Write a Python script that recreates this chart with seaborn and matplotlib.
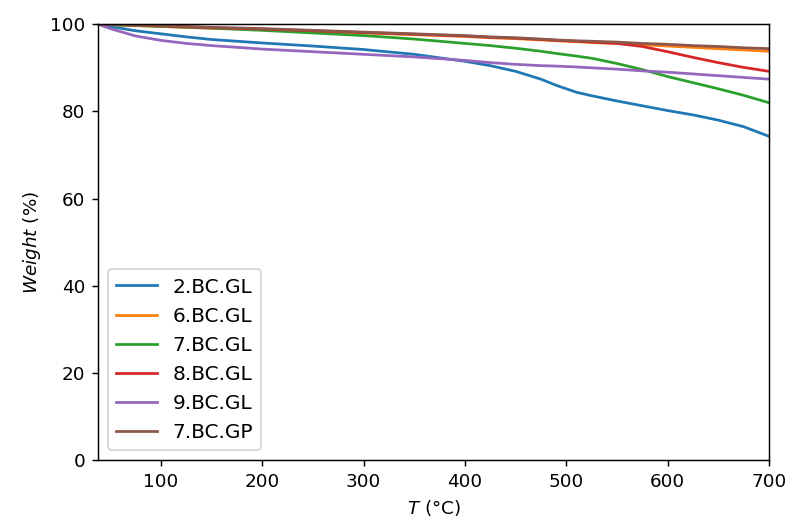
import numpy as np
import pandas as pd
import matplotlib
matplotlib.use('Agg')
import matplotlib.pyplot as plt
import seaborn as sns

# ==========================================
# TGA data
# ==========================================
temperature = [38, 50, 75, 100, 125, 150, 200, 250, 300, 350, 400, 425,
               450, 475, 490, 510, 525, 550, 575, 600, 625, 650, 675, 700]

w_2_bc_gl = [100, 99.5, 98.5, 97.8, 97.1, 96.5, 95.7, 95.0, 94.2, 93.1, 91.5, 90.5,
             89.2, 87.4, 86.0, 84.4, 83.6, 82.4, 81.3, 80.2, 79.2, 78.0, 76.5, 74.3]
w_6_bc_gl = [100, 99.9, 99.7, 99.5, 99.3, 99.1, 98.8, 98.4, 98.0, 97.6, 97.2, 96.9,
             96.7, 96.4, 96.2, 96.0, 95.8, 95.6, 95.3, 95.0, 94.7, 94.4, 94.1, 93.8]
w_7_bc_gl = [100, 99.9, 99.7, 99.5, 99.3, 99.1, 98.6, 98.0, 97.4, 96.6, 95.6, 95.1,
             94.5, 93.8, 93.3, 92.7, 92.2, 91.0, 89.6, 88.0, 86.6, 85.2, 83.7, 82.0]
w_8_bc_gl = [100, 99.95, 99.8, 99.6, 99.4, 99.2, 98.9, 98.5, 98.1, 97.7, 97.3, 97.0,
             96.8, 96.5, 96.3, 96.1, 95.9, 95.6, 94.9, 93.7, 92.4, 91.2, 90.1, 89.2]
w_9_bc_gl = [100, 99.0, 97.3, 96.3, 95.6, 95.1, 94.3, 93.7, 93.1, 92.5, 91.7, 91.2,
             90.8, 90.5, 90.4, 90.2, 90.0, 89.7, 89.3, 89.0, 88.6, 88.2, 87.8, 87.4]
w_7_bc_gp = [100, 99.95, 99.8, 99.7, 99.5, 99.3, 99.0, 98.6, 98.2, 97.8, 97.4, 97.1,
             96.9, 96.6, 96.4, 96.2, 96.1, 95.9, 95.6, 95.4, 95.1, 94.9, 94.6, 94.4]

samples = ['2.BC.GL', '6.BC.GL', '7.BC.GL', '8.BC.GL', '9.BC.GL', '7.BC.GP']
weights = [w_2_bc_gl, w_6_bc_gl, w_7_bc_gl, w_8_bc_gl, w_9_bc_gl, w_7_bc_gp]

df = pd.concat([
    pd.DataFrame({'T': temperature, 'Weight': w, 'Sample': name})
    for name, w in zip(samples, weights)
], ignore_index=True)

# ==========================================
# Plot
# ==========================================
fig = plt.figure(figsize=(791 / 132, 527 / 132), dpi=132)
ax = fig.add_axes([0.124, 0.127, 0.848, 0.827])

sns.lineplot(data=df, x='T', y='Weight', hue='Sample', hue_order=samples,
             palette=sns.color_palette('tab10', len(samples)),
             linewidth=1.5, ax=ax)

ax.set_xlim(38, 700)
ax.set_ylim(0, 100)
ax.set_xticks([100, 200, 300, 400, 500, 600, 700])
ax.set_xlabel(r'$T$ (°C)')
ax.set_ylabel(r'$Weight$ (%)')
ax.legend(loc='lower left', fontsize=11)

fig.savefig('out.png', dpi=132)
plt.close(fig)
